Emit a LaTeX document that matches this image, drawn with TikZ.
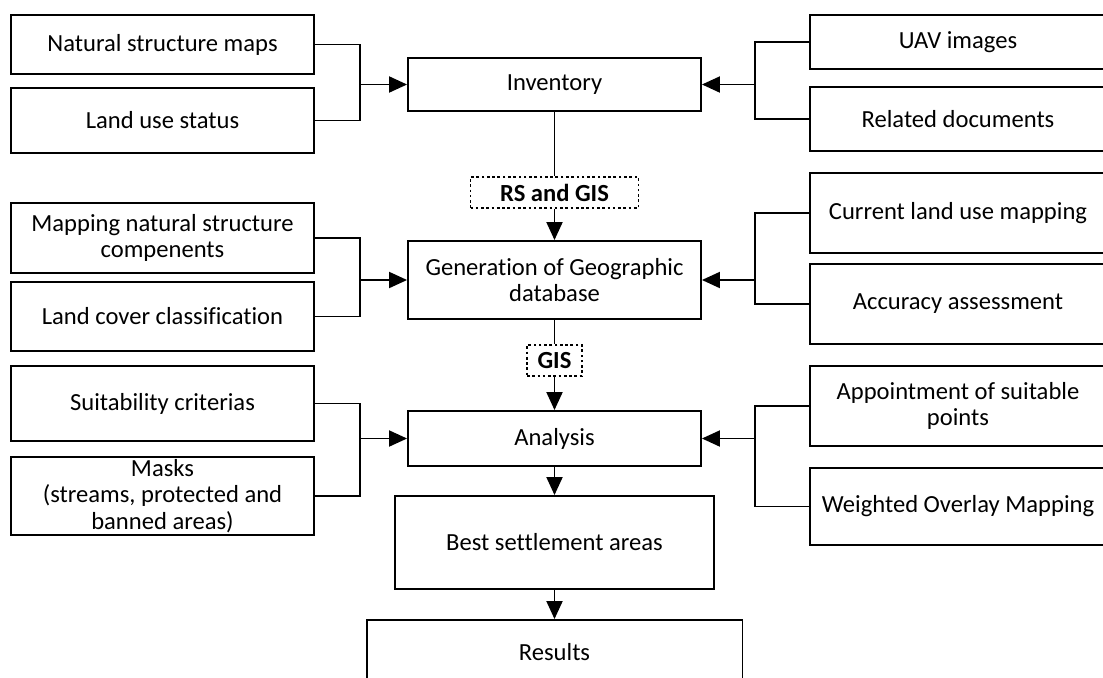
\documentclass[tikz,border=0pt]{standalone}
\usepackage{fontspec}
\setmainfont{Carlito}[Ligatures=NoCommon]
\usetikzlibrary{arrows.meta}

\begin{document}
\begin{tikzpicture}[x=0.02cm,y=-0.02cm,
  box/.style={draw,line width=1.1pt,inner sep=0pt,align=center,font=\fontsize{14}{15}\selectfont},
  tagbox/.style={draw,dash pattern=on 1.5pt off 1.5pt,line width=0.7pt,inner sep=0pt,font=\bfseries\fontsize{14}{15}\selectfont},
  link/.style={line width=1.1pt},
  arr/.style={line width=1.1pt,-{Triangle[length=0.36cm,width=0.32cm]}}]
\useasboundingbox (0,0) rectangle (1103,677);
\clip (0,0) rectangle (1103,677);
% left column
\node[box,minimum width=6.06cm,minimum height=1.18cm] (nsm) at (162.5,44.5) {Natural structure maps};
\node[box,minimum width=6.06cm,minimum height=1.3cm] (lus) at (162.5,120.5) {Land use status};
\node[box,minimum width=6.06cm,minimum height=1.4cm] (mnsc) at (162.5,238) {Mapping natural structure\\compenents};
\node[box,minimum width=6.06cm,minimum height=1.38cm] (lcc) at (162.5,316.5) {Land cover classification};
\node[box,minimum width=6.06cm,minimum height=1.5cm] (suit) at (162.5,403.5) {Suitability criterias};
\node[box,minimum width=6.06cm,minimum height=1.56cm] (masks) at (162.5,496) {Masks\\(streams, protected and\\banned areas)};
% middle column
\node[box,minimum width=5.86cm,minimum height=1.06cm] (inv) at (554.5,84.5) {Inventory};
\node[tagbox,minimum width=3.36cm,minimum height=0.62cm] (rsgis) at (554.5,192.5) {RS and GIS};
\node[box,minimum width=5.86cm,minimum height=1.56cm] (gen) at (554.5,280) {Generation of Geographic\\database};
\node[tagbox,minimum width=1.1cm,minimum height=0.62cm] (gis) at (554.5,360.5) {GIS};
\node[box,minimum width=5.86cm,minimum height=1.1cm] (ana) at (554.5,438.5) {Analysis};
\node[box,minimum width=6.38cm,minimum height=1.86cm] (best) at (554.5,542.5) {Best settlement areas};
\node[box,minimum width=7.52cm,minimum height=1.28cm] (res) at (554.5,652) {Results};
% right column
\node[box,minimum width=5.92cm,minimum height=1.08cm] (uav) at (958,42) {UAV images};
\node[box,minimum width=5.92cm,minimum height=1.28cm] (rel) at (958,119) {Related documents};
\node[box,minimum width=5.92cm,minimum height=1.6cm] (clum) at (958,213) {Current land use mapping};
\node[box,minimum width=5.92cm,minimum height=1.6cm] (acc) at (958,304) {Accuracy assessment};
\node[box,minimum width=5.92cm,minimum height=1.6cm] (app) at (958,406) {Appointment of suitable\\points};
\node[box,minimum width=5.92cm,minimum height=1.54cm] (wom) at (958,506.5) {Weighted Overlay Mapping};
% junctions
\coordinate (jl1) at (inv.west -| 360,0);
\coordinate (jl2) at (gen.west -| 360,0);
\coordinate (jl3) at (ana.west -| 360,0);
\coordinate (jr1) at (inv.east -| 755,0);
\coordinate (jr2) at (gen.east -| 755,0);
\coordinate (jr3) at (ana.east -| 755,0);
% left inputs
\draw[link] (nsm.east) -| (jl1) |- (lus.east);
\draw[arr] (jl1) -- (inv.west);
\draw[link] (mnsc.east) -| (jl2) |- (lcc.east);
\draw[arr] (jl2) -- (gen.west);
\draw[link] (suit.east) -| (jl3) |- (masks.east);
\draw[arr] (jl3) -- (ana.west);
% right inputs
\draw[link] (uav.west) -| (jr1) |- (rel.west);
\draw[arr] (jr1) -- (inv.east);
\draw[link] (clum.west) -| (jr2) |- (acc.west);
\draw[arr] (jr2) -- (gen.east);
\draw[link] (app.west) -| (jr3) |- (wom.west);
\draw[arr] (jr3) -- (ana.east);
% main flow
\draw[link] (inv.south) -- (rsgis.north);
\draw[arr] (rsgis.south) -- (gen.north);
\draw[link] (gen.south) -- (gis.north);
\draw[arr] (gis.south) -- (ana.north);
\draw[arr] (ana.south) -- (best.north);
\draw[arr] (best.south) -- (res.north);
\end{tikzpicture}
\end{document}
